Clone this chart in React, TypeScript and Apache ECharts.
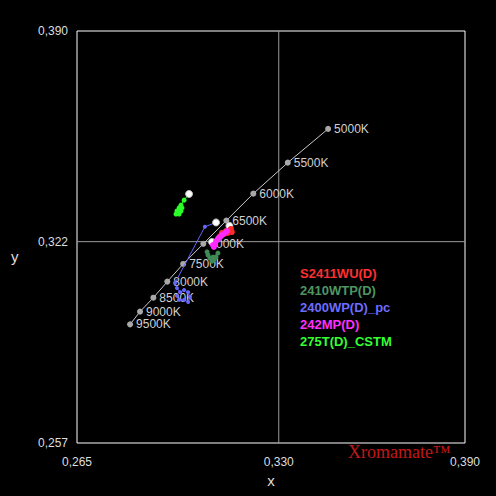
import React, { useEffect, useRef } from "react";
import * as echarts from "echarts";

const xTicks = [0.265, 0.33, 0.39];
const yTicks = [0.257, 0.322, 0.39];
const crossX = 0.33;
const crossY = 0.322;

const cctNames = ["5000K", "5500K", "6000K", "6500K", "7000K", "7500K", "8000K", "8500K", "9000K", "9500K"];
const cctX = [0.3459, 0.3329, 0.3218, 0.3131, 0.3057, 0.2992, 0.2941, 0.2896, 0.2853, 0.2821];
const cctY = [0.3584, 0.3475, 0.3375, 0.3288, 0.3213, 0.3148, 0.3091, 0.3039, 0.2994, 0.2953];

const names = ["S2411WU(D)", "2410WTP(D)", "2400WP(D)_pc", "242MP(D)", "275T(D)_CSTM"];
const colors = ["#ff2a2a", "#3f8a55", "#6666ff", "#ff2aff", "#2aff2a"];
const legendColors = ["#ff3030", "#4e9562", "#6c6cff", "#ff30ff", "#33ff33"];
const markerSizes = [6, 5, 4, 6, 5];

const redX = [0.3141, 0.3146, 0.3149, 0.3136, 0.3124, 0.3111, 0.3117, 0.313, 0.3143];
const redY = [0.3271, 0.3261, 0.3251, 0.3248, 0.3245, 0.3238, 0.3248, 0.3254, 0.3258];

const dgreenX = [0.3069, 0.3072, 0.3078, 0.3085, 0.3091, 0.3098, 0.3104, 0.3088];
const dgreenY = [0.3187, 0.3177, 0.3167, 0.3157, 0.3161, 0.317, 0.3183, 0.317];

const blueX = [0.3098, 0.3062, 0.2966, 0.2972, 0.2982, 0.2995, 0.3008, 0.3014, 0.3008, 0.2995, 0.2979, 0.2972];
const blueY = [0.3282, 0.3268, 0.3087, 0.307, 0.3057, 0.3064, 0.3057, 0.3041, 0.3025, 0.3032, 0.3032, 0.3045];

const magX = [0.3085, 0.3091, 0.3088, 0.3098, 0.3104, 0.3111, 0.3117, 0.3127, 0.3133, 0.3107, 0.3095];
const magY = [0.3219, 0.3203, 0.3209, 0.3222, 0.3229, 0.3235, 0.3241, 0.3248, 0.3254, 0.3232, 0.3212];

const greenX = [0.3011, 0.2995, 0.2985, 0.2979, 0.2972, 0.2969, 0.2979, 0.2985, 0.2988];
const greenY = [0.3374, 0.3354, 0.3338, 0.3329, 0.3319, 0.3309, 0.3309, 0.3319, 0.3329];

const seriesX = [redX, dgreenX, blueX, magX, greenX];
const seriesY = [redY, dgreenY, blueY, magY, greenY];
const hasStart = [true, false, true, true, true];

const X_MIN = 0.265, X_MAX = 0.39, Y_MIN = 0.257, Y_MAX = 0.39;

const fmt = (v: number) => v.toFixed(3).replace(".", ",");
const FONT = "Liberation Sans, Arial, sans-serif";

export default function App() {
  const ref = useRef<HTMLDivElement>(null);
  useEffect(() => {
    if (!ref.current) return;
    document.body.style.margin = "0";
    const chart = echarts.init(ref.current, undefined, { renderer: "svg" });

    const measSeries = names.map((n, i) => ({
      name: n,
      type: "line",
      data: seriesX[i].map((x, j) => {
        const item: any = { value: [x, seriesY[i][j]] };
        if (j === 0 && hasStart[i]) {
          item.symbolSize = 7;
          item.itemStyle = { color: "#ffffff", borderColor: "#bbbbbb", borderWidth: 1 };
        }
        return item;
      }),
      symbol: "circle",
      symbolSize: markerSizes[i],
      showAllSymbol: true,
      lineStyle: { color: colors[i], width: 1 },
      itemStyle: { color: colors[i], borderWidth: 0 },
      z: 5 + i,
    }));

    const crossStyle = { color: "#9a9a9a", width: 1 };

    chart.setOption({
      animation: false,
      backgroundColor: "#000000",
      grid: {
        left: 77,
        top: 31,
        width: 388,
        height: 412,
        show: true,
        borderColor: "#ffffff",
        borderWidth: 1,
        backgroundColor: "transparent",
      },
      xAxis: {
        type: "value",
        min: X_MIN,
        max: X_MAX,
        name: "x",
        nameLocation: "middle",
        nameGap: 27,
        nameTextStyle: { color: "#dddddd", fontSize: 15, fontFamily: FONT },
        axisLine: { show: false },
        axisTick: { show: false },
        splitLine: { show: false },
        axisLabel: {
          customValues: xTicks,
          formatter: (v: number) => fmt(v),
          color: "#dddddd",
          fontSize: 12,
          fontFamily: FONT,
          margin: 13,
        },
      },
      yAxis: {
        type: "value",
        min: Y_MIN,
        max: Y_MAX,
        axisLine: { show: false },
        axisTick: { show: false },
        splitLine: { show: false },
        axisLabel: {
          customValues: yTicks,
          formatter: (v: number) => fmt(v),
          color: "#dddddd",
          fontSize: 12,
          fontFamily: FONT,
          margin: 9,
        },
      },
      legend: {
        orient: "vertical",
        left: 290,
        top: 262,
        icon: "none",
        itemWidth: 0,
        itemHeight: 12,
        itemGap: 4,
        selectedMode: false,
        textStyle: { fontSize: 13, fontWeight: "bold", fontFamily: FONT },
        data: names.map((n, i) => ({ name: n, textStyle: { color: legendColors[i] } })),
      },
      graphic: [
        {
          type: "text",
          left: 11,
          top: 249,
          style: { text: "y", fill: "#dddddd", font: "15px 'Liberation Sans', Arial, sans-serif" },
        },
        {
          type: "text",
          left: 348,
          top: 443,
          style: {
            text: "Xromamate™",
            fill: "#c01818",
            font: "18px 'Liberation Serif', serif",
            shadowColor: "rgba(200,0,0,0.8)",
            shadowBlur: 4,
          },
        },
      ],
      series: [
        {
          name: "crossV",
          type: "line",
          data: [[crossX, Y_MIN], [crossX, Y_MAX]],
          symbol: "none",
          lineStyle: crossStyle,
          silent: true,
          z: 1,
        },
        {
          name: "crossH",
          type: "line",
          data: [[X_MIN, crossY], [X_MAX, crossY]],
          symbol: "none",
          lineStyle: crossStyle,
          silent: true,
          z: 1,
        },
        {
          name: "daylight",
          type: "line",
          data: cctX.map((x, i) => ({ value: [x, cctY[i]], name: cctNames[i] })),
          symbol: "circle",
          symbolSize: 6,
          showAllSymbol: true,
          lineStyle: { color: "#c8c8c8", width: 1 },
          itemStyle: { color: "#a8a8a8" },
          label: {
            show: true,
            position: "right",
            distance: 3,
            formatter: (p: any) => p.name,
            color: "#d0d0d0",
            fontSize: 12,
            fontFamily: FONT,
          },
          z: 3,
        },
        ...measSeries,
      ],
    });
    return () => chart.dispose();
  }, []);
  return <div ref={ref} style={{ width: 496, height: 496, position: "fixed", left: 0, top: 0 }} />;
}
